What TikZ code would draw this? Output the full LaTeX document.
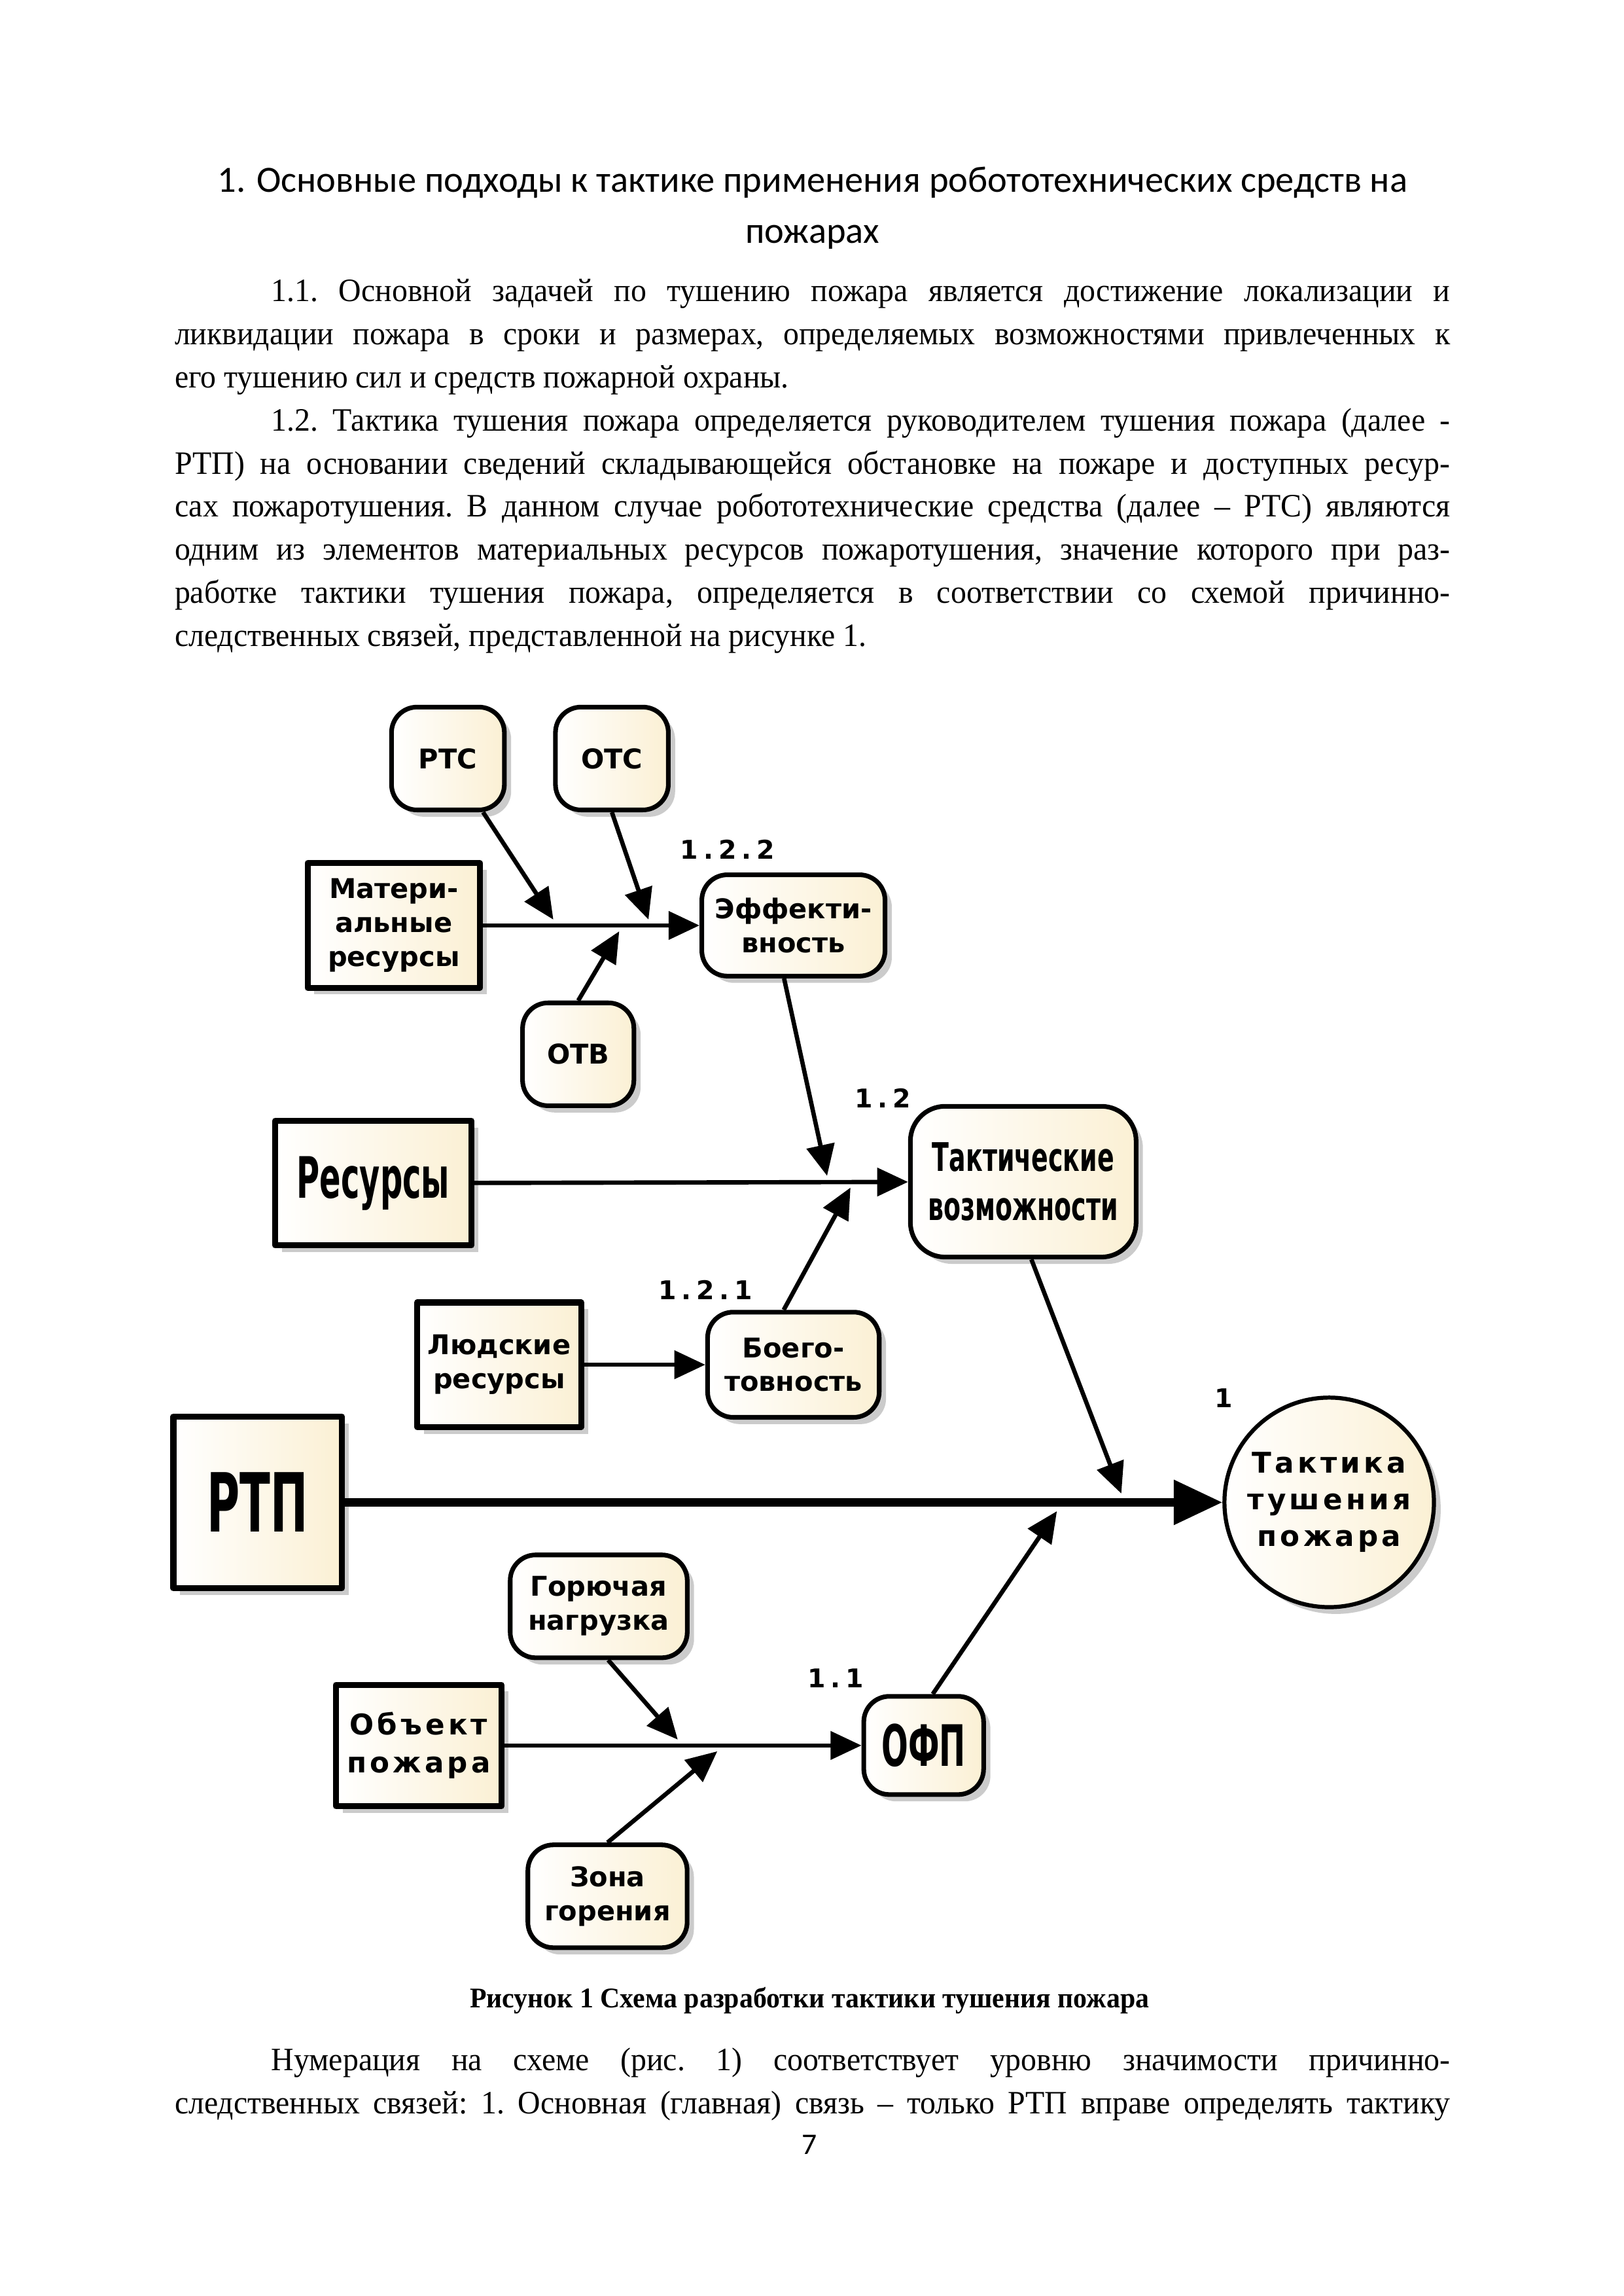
\documentclass[tikz,border=0pt]{standalone}
\usepackage{fontspec}
\setmainfont{Liberation Serif}[FakeStretch=0.96]
\newfontfamily\headfont{Carlito}
\newfontfamily\diagfont{DejaVu Sans}
\newfontfamily\narrowfont{DejaVu Sans}[FakeStretch=0.55]
\newfontfamily\semifont{DejaVu Sans}[FakeStretch=0.63]
\newfontfamily\spacedfont{DejaVu Sans}[LetterSpace=12]
\newfontfamily\labelfont{DejaVu Sans}[LetterSpace=20]
\usetikzlibrary{arrows.meta, shadows}
\definecolor{boxCream}{RGB}{251,240,212}
\newcommand{\parstart}{\hspace*{1.25cm}}
\newcommand{\bodysetup}{\frenchspacing\tolerance=10000 \hyphenpenalty=10000 \relax}
\tikzset{
    sheet/.style={x=0.018936cm, y=-0.018936cm, line join=round},
    cause/.style={draw=black, line width=2.2pt, left color=white,
                  right color=boxCream, align=center, inner sep=1pt,
                  drop shadow={shadow xshift=2.5pt, shadow yshift=-2.5pt,
                               fill=black!45, opacity=0.45},
                  font=\diagfont\bfseries\fontsize{10}{12.5}\selectfont},
    factor/.style={cause, rounded corners=0.33cm, line width=1.7pt},
    goal/.style={factor, circle, line width=1.5pt, minimum size=2.71cm,
                 font=\spacedfont\bfseries\fontsize{10.5}{13.5}\selectfont},
    level/.style={font=\labelfont\bfseries\fontsize{9.5}{11}\selectfont},
    arrow/.style={-{Triangle[length=0.4cm, width=0.36cm]}, line width=1.6pt},
    mainarrow/.style={-{Triangle[length=0.63cm, width=0.56cm]}, line width=3pt},
    bodytext/.style={text width=16.5cm, inner sep=0pt, anchor=base west,
                     align=justify, font=\fontsize{12}{15.85}\selectfont},
}

\begin{document}
\begin{tikzpicture}[sheet]

% ─── Страница ───────────────────────────────────────────────────────────
\fill[white] (0,0) rectangle (1109,1568);
\useasboundingbox (0,0) rectangle (1109,1568);

\node[align=center, anchor=base, font=\headfont\fontsize{13.6}{18.8}\selectfont]
    (title) at (555,166)
    {1. Основные подходы к тактике применения робототехнических средств на\\
     пожарах};

\node[bodytext] (intro) at (119,206) {\bodysetup
\parstart 1.1. Основной задачей по тушению пожара является достижение локализации и\linebreak
ликвидации пожара в сроки и размерах, определяемых возможностями привлеченных к\linebreak
его тушению сил и средств пожарной охраны.\par
\parstart 1.2. Тактика тушения пожара определяется руководителем тушения пожара (далее -\linebreak
РТП) на основании сведений складывающейся обстановке на пожаре и доступных ресур-\linebreak
сах пожаротушения. В данном случае робототехнические средства (далее – РТС) являются\linebreak
одним из элементов материальных ресурсов пожаротушения, значение которого при раз-\linebreak
работке тактики тушения пожара, определяется в соответствии со схемой причинно-\linebreak
следственных связей, представленной на рисунке 1.};

% ─── Ветвь 1.2.2 : эффективность ────────────────────────────────────────
\node[factor, minimum width=1.46cm, minimum height=1.33cm] (rts) at (306,518) {РТС};
\node[factor, minimum width=1.46cm, minimum height=1.33cm] (ots) at (418,518) {ОТС};
\node[cause, minimum width=2.23cm, minimum height=1.61cm] (material) at (269,632)
    {Матери-\\альные\\ресурсы};
\node[factor, minimum width=2.37cm, minimum height=1.31cm] (effect) at (542,632)
    {Эффекти-\\вность};
\node[factor, minimum width=1.44cm, minimum height=1.33cm] (otv) at (395,720) {ОТВ};
\node[level] (lvlEffect) at (497,580) {1.2.2};

% ─── Ветвь 1.2 : тактические возможности ────────────────────────────────
\node[cause, minimum width=2.54cm, minimum height=1.61cm,
      font=\narrowfont\bfseries\fontsize{21}{24}\selectfont] (resources) at (255,808)
    {Ресурсы};
\node[factor, rounded corners=0.45cm, minimum width=2.92cm, minimum height=1.95cm,
      font=\semifont\bfseries\fontsize{14.5}{18}\selectfont] (tactical) at (699,807)
    {Тактические\\возможности};
\node[level] (lvlTactical) at (603,750) {1.2};

% ─── Ветвь 1.2.1 : боеготовность ────────────────────────────────────────
\node[cause, minimum width=2.12cm, minimum height=1.61cm] (people) at (341,932)
    {Людские\\ресурсы};
\node[factor, minimum width=2.22cm, minimum height=1.36cm] (ready) at (542,932)
    {Боего-\\товность};
\node[level] (lvlReady) at (482,881) {1.2.1};

% ─── Главная связь ──────────────────────────────────────────────────────
\node[cause, minimum width=2.18cm, minimum height=2.22cm,
      font=\narrowfont\bfseries\fontsize{30}{34}\selectfont] (rtp) at (176,1026) {РТП};
\node[goal] (goal) at (908,1026) {Тактика\\тушения\\пожара};
\node[level] (lvlGoal) at (836,955) {1};

% ─── Ветвь 1.1 : ОФП ────────────────────────────────────────────────────
\node[factor, minimum width=2.29cm, minimum height=1.33cm] (load) at (409,1097)
    {Горючая\\нагрузка};
\node[cause, minimum width=2.14cm, minimum height=1.57cm,
      font=\spacedfont\bfseries\fontsize{10.5}{13.8}\selectfont] (object) at (286,1192)
    {Объект\\пожара};
\node[factor, minimum width=1.55cm, minimum height=1.27cm,
      font=\narrowfont\bfseries\fontsize{21}{24}\selectfont] (ofp) at (631,1192) {ОФП};
\node[factor, minimum width=2.06cm, minimum height=1.33cm] (zone) at (415,1295)
    {Зона\\горения};
\node[level] (lvlOfp) at (571,1146) {1.1};

% Точки, где косые стрелки упираются в линии
\coordinate (tipRTS) at (378,628);
\coordinate (tipOTS) at (443,628);
\coordinate (tipOTV) at (423,636);
\coordinate (tipEffect) at (565,803);
\coordinate (tipReady) at (581,811);
\coordinate (tipTactical) at (766,1020);
\coordinate (tipOFP) at (722,1032);
\coordinate (tipLoad) at (463,1188);
\coordinate (tipZone) at (490,1196);

% ─── Стрелки ────────────────────────────────────────────────────────────
\draw[arrow] (material) -- (effect);
\draw[arrow] (rts) -- (tipRTS);
\draw[arrow] (ots.south) -- (tipOTS);
\draw[arrow] (otv.north) -- (tipOTV);
\draw[arrow] (resources) -- (tactical);
\draw[arrow] (effect.-100) -- (tipEffect);
\draw[arrow] (people) -- (ready);
\draw[arrow] (ready.100) -- (tipReady);
\draw[mainarrow] (rtp) -- (goal);
\draw[arrow] (tactical.-84) -- (tipTactical);
\draw[arrow] (object) -- (ofp);
\draw[arrow] (load.-80) -- (tipLoad);
\draw[arrow] (zone.north) -- (tipZone);
\draw[arrow] (ofp.80) -- (tipOFP);

% ─── Подпись и продолжение текста ───────────────────────────────────────
\node[anchor=base, font=\bfseries\fontsize{10.5}{13}\selectfont] (caption) at (553,1371)
    {Рисунок 1 Схема разработки тактики тушения пожара};

\node[bodytext] (numbering) at (119,1414) {\bodysetup
\parstart Нумерация на схеме (рис. 1) соответствует уровню значимости причинно-\linebreak
следственных связей: 1. Основная (главная) связь – только РТП вправе определять тактику\linebreak};

\node[anchor=base, font=\headfont\fontsize{11}{13}\selectfont] (pageno) at (553,1471) {7};

\end{tikzpicture}
\end{document}
